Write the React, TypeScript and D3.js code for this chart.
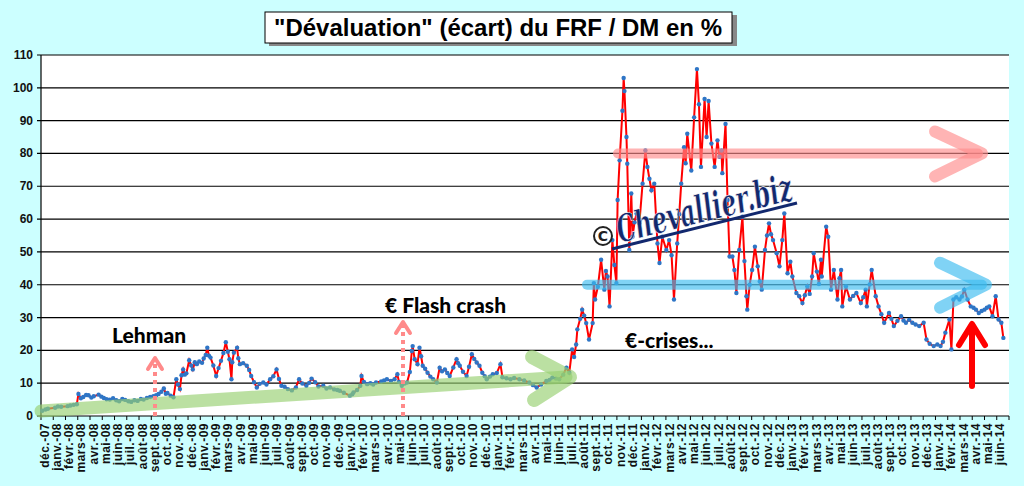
import * as d3 from "d3";

// values: [date, écart %]
const s2008: [string, number][] = [
  ["2007-12-04", 1.6], ["2007-12-12", 2.0], ["2007-12-18", 2.2], ["2008-01-05", 2.5], ["2008-01-12", 2.9],
  ["2008-01-20", 2.8], ["2008-02-05", 3.0], ["2008-02-12", 3.2], ["2008-02-20", 3.4], ["2008-02-28", 3.6],
  ["2008-03-03", 6.7], ["2008-03-09", 5.4], ["2008-03-15", 5.8], ["2008-03-22", 6.4], ["2008-03-28", 6.3],
  ["2008-04-04", 5.6], ["2008-04-10", 6.0], ["2008-04-22", 6.5], ["2008-04-29", 5.9], ["2008-05-05", 5.5],
  ["2008-05-12", 5.1], ["2008-05-20", 5.0], ["2008-05-28", 5.4], ["2008-06-05", 4.8], ["2008-06-12", 4.5],
  ["2008-06-20", 5.2], ["2008-06-27", 4.9], ["2008-07-05", 4.5], ["2008-07-12", 4.3], ["2008-07-20", 4.8],
  ["2008-07-28", 4.6], ["2008-08-05", 5.2], ["2008-08-12", 5.0], ["2008-08-20", 5.5], ["2008-08-28", 5.8],
  ["2008-09-05", 6.0], ["2008-09-12", 6.3], ["2008-09-18", 6.7], ["2008-09-25", 7.4], ["2008-10-01", 8.4],
  ["2008-10-06", 6.8], ["2008-10-10", 7.0], ["2008-10-18", 6.2], ["2008-10-25", 5.7], ["2008-11-01", 11.2],
  ["2008-11-05", 9.6], ["2008-11-10", 8.2], ["2008-11-14", 12.4], ["2008-11-18", 14.2], ["2008-11-22", 12.6],
  ["2008-11-26", 13.0], ["2008-12-03", 17.0], ["2008-12-08", 15.4], ["2008-12-12", 14.2], ["2008-12-17", 16.4],
  ["2008-12-22", 15.8], ["2008-12-28", 16.6],
];

const s2009: [string, number][] = [
  ["2009-01-04", 16.2], ["2009-01-08", 17.5], ["2009-01-13", 18.6], ["2009-01-17", 20.8], ["2009-01-21", 18.4],
  ["2009-01-25", 17.8], ["2009-02-01", 15.4], ["2009-02-08", 12.2], ["2009-02-14", 14.6], ["2009-02-20", 16.8],
  ["2009-02-26", 19.2], ["2009-03-04", 22.5], ["2009-03-09", 19.6], ["2009-03-13", 17.3], ["2009-03-18", 11.2],
  ["2009-03-20", 16.4], ["2009-03-24", 19.3], ["2009-04-01", 20.8], ["2009-04-04", 17.6], ["2009-04-08", 15.8],
  ["2009-04-16", 16.1], ["2009-04-25", 15.3], ["2009-05-01", 14.0], ["2009-05-06", 12.2], ["2009-05-13", 10.3],
  ["2009-05-20", 8.7], ["2009-05-27", 9.8], ["2009-06-05", 10.2], ["2009-06-13", 9.6], ["2009-06-22", 11.2],
  ["2009-06-30", 12.1], ["2009-07-08", 14.2], ["2009-07-14", 11.3], ["2009-07-20", 9.2], ["2009-07-28", 8.9],
  ["2009-08-05", 8.2], ["2009-08-15", 7.8], ["2009-08-25", 8.7], ["2009-09-02", 11.2], ["2009-09-10", 9.9],
  ["2009-09-20", 9.2], ["2009-09-27", 10.1], ["2009-10-03", 11.4], ["2009-10-12", 10.3], ["2009-10-20", 9.0],
  ["2009-11-01", 9.2], ["2009-11-09", 8.4], ["2009-11-18", 8.7], ["2009-11-28", 8.1], ["2009-12-06", 7.9],
  ["2009-12-12", 7.7], ["2009-12-22", 7.1],
];

const s2010: [string, number][] = [
  ["2010-01-06", 6.2], ["2010-01-12", 6.6], ["2010-01-15", 7.2], ["2010-01-24", 7.9], ["2010-02-01", 9.2],
  ["2010-02-04", 12.2], ["2010-02-10", 10.4], ["2010-02-18", 9.7], ["2010-02-26", 10.0], ["2010-03-05", 9.6],
  ["2010-03-12", 10.2], ["2010-03-25", 10.5], ["2010-04-01", 10.8], ["2010-04-08", 11.2], ["2010-04-18", 10.7],
  ["2010-04-27", 11.2], ["2010-05-04", 12.7], ["2010-05-08", 10.4], ["2010-05-15", 9.2], ["2010-05-22", 9.9],
  ["2010-05-28", 10.2], ["2010-06-04", 13.4], ["2010-06-09", 19.8], ["2010-06-11", 21.3], ["2010-06-16", 17.3],
  ["2010-06-23", 15.8], ["2010-06-28", 20.8], ["2010-07-02", 18.2], ["2010-07-06", 15.3], ["2010-07-12", 14.4],
  ["2010-07-18", 13.2], ["2010-07-25", 12.0], ["2010-08-01", 11.2], ["2010-08-10", 10.2], ["2010-08-17", 14.7],
  ["2010-08-23", 13.6], ["2010-08-30", 14.2], ["2010-09-05", 13.1], ["2010-09-11", 12.2], ["2010-09-20", 14.8],
  ["2010-09-28", 17.3], ["2010-10-02", 16.1], ["2010-10-06", 15.3], ["2010-10-14", 13.5], ["2010-10-23", 12.2],
  ["2010-10-29", 15.0], ["2010-11-05", 18.8], ["2010-11-11", 17.4], ["2010-11-17", 16.3], ["2010-11-24", 15.3],
  ["2010-12-01", 13.2], ["2010-12-07", 12.1], ["2010-12-12", 11.2], ["2010-12-20", 12.0], ["2010-12-27", 12.7],
];

const s2011: [string, number][] = [
  ["2011-01-06", 13.1], ["2011-01-15", 15.8], ["2011-01-20", 11.8], ["2011-01-30", 11.5], ["2011-02-09", 11.2],
  ["2011-02-18", 11.6], ["2011-03-03", 11.2], ["2011-03-15", 10.8], ["2011-03-28", 10.2], ["2011-04-06", 9.4],
  ["2011-04-15", 8.7], ["2011-04-26", 9.6], ["2011-05-09", 10.7], ["2011-05-17", 11.0], ["2011-05-24", 11.7],
  ["2011-06-02", 11.4], ["2011-06-10", 11.2], ["2011-06-20", 12.6], ["2011-06-28", 14.7], ["2011-07-05", 13.2],
  ["2011-07-12", 20.3], ["2011-07-17", 18.0], ["2011-07-22", 21.8], ["2011-07-25", 26.4], ["2011-08-01", 29.6],
  ["2011-08-06", 32.4], ["2011-08-11", 30.6], ["2011-08-16", 28.3], ["2011-08-23", 23.3], ["2011-09-01", 28.3],
  ["2011-09-04", 40.5], ["2011-09-07", 35.5], ["2011-09-14", 39.4], ["2011-09-22", 47.6], ["2011-09-30", 38.5],
  ["2011-10-04", 44.2], ["2011-10-08", 42.5], ["2011-10-13", 33.4], ["2011-10-20", 53.6], ["2011-10-25", 46.0],
  ["2011-10-30", 40.5], ["2011-11-02", 65.8], ["2011-11-07", 77.9], ["2011-11-14", 93.0], ["2011-11-17", 103.0],
  ["2011-11-19", 99.0], ["2011-11-24", 85.0], ["2011-11-26", 76.9], ["2011-12-01", 50.6], ["2011-12-06", 67.8],
  ["2011-12-09", 54.6], ["2011-12-14", 59.0], ["2011-12-19", 61.7], ["2011-12-26", 58.7],
];

const s2012: [string, number][] = [
  ["2012-01-03", 70.8], ["2012-01-10", 80.9], ["2012-01-15", 75.9], ["2012-01-20", 72.3], ["2012-01-25", 68.8],
  ["2012-02-01", 70.8], ["2012-02-09", 52.6], ["2012-02-14", 46.6], ["2012-02-21", 54.6], ["2012-03-02", 50.6],
  ["2012-03-09", 53.6], ["2012-03-15", 49.0], ["2012-03-21", 35.5], ["2012-03-29", 52.6], ["2012-04-03", 61.5],
  ["2012-04-08", 70.8], ["2012-04-15", 81.9], ["2012-04-19", 77.0], ["2012-04-23", 86.0], ["2012-05-03", 74.8],
  ["2012-05-10", 91.0], ["2012-05-17", 105.7], ["2012-05-22", 95.0], ["2012-05-27", 75.9], ["2012-06-05", 96.6],
  ["2012-06-10", 85.0], ["2012-06-15", 96.0], ["2012-06-22", 83.0], ["2012-06-30", 75.9], ["2012-07-07", 84.0],
  ["2012-07-12", 79.0], ["2012-07-17", 80.9], ["2012-07-19", 74.0], ["2012-07-27", 89.0], ["2012-08-01", 65.8],
  ["2012-08-06", 48.6], ["2012-08-13", 48.6], ["2012-08-18", 44.5], ["2012-08-23", 37.5], ["2012-08-30", 50.6],
  ["2012-09-07", 60.7], ["2012-09-12", 47.2], ["2012-09-17", 36.5], ["2012-09-19", 32.4], ["2012-09-25", 40.0],
  ["2012-10-01", 44.5], ["2012-10-08", 51.6], ["2012-10-15", 45.6], ["2012-10-20", 41.0], ["2012-10-25", 38.5],
  ["2012-11-02", 50.6], ["2012-11-07", 55.0], ["2012-11-12", 58.7], ["2012-11-17", 55.4], ["2012-11-22", 53.6],
  ["2012-12-01", 49.6], ["2012-12-08", 45.6], ["2012-12-15", 53.6], ["2012-12-20", 61.7], ["2012-12-28", 43.5],
];

const s2013: [string, number][] = [
  ["2013-01-04", 47.0], ["2013-01-09", 42.5], ["2013-01-19", 37.5], ["2013-01-26", 36.5], ["2013-02-03", 34.4],
  ["2013-02-09", 36.8], ["2013-02-15", 39.5], ["2013-02-21", 37.2], ["2013-02-27", 42.5], ["2013-03-03", 49.6],
  ["2013-03-11", 44.0], ["2013-03-16", 40.2], ["2013-03-21", 47.6], ["2013-03-23", 42.5], ["2013-04-03", 57.7],
  ["2013-04-08", 54.6], ["2013-04-15", 38.5], ["2013-04-22", 44.5], ["2013-05-01", 35.5], ["2013-05-06", 42.0],
  ["2013-05-10", 44.5], ["2013-05-13", 33.4], ["2013-05-22", 39.5], ["2013-06-01", 35.5], ["2013-06-09", 36.6],
  ["2013-06-17", 37.5], ["2013-06-28", 34.4], ["2013-07-04", 36.2], ["2013-07-10", 38.5], ["2013-07-13", 33.4],
  ["2013-07-20", 40.1], ["2013-07-25", 44.5], ["2013-08-04", 36.5], ["2013-08-11", 33.4], ["2013-08-18", 31.0],
  ["2013-08-25", 28.4], ["2013-09-06", 31.4], ["2013-09-12", 29.6], ["2013-09-18", 27.4], ["2013-09-27", 29.0],
  ["2013-10-06", 30.4], ["2013-10-12", 29.1], ["2013-10-18", 28.4], ["2013-10-26", 29.3], ["2013-11-03", 28.4],
  ["2013-11-11", 27.9], ["2013-11-20", 27.4], ["2013-12-01", 28.4], ["2013-12-08", 23.3], ["2013-12-16", 22.0],
  ["2013-12-26", 21.3],
];

const s2014: [string, number][] = [
  ["2014-01-04", 21.8], ["2014-01-12", 21.3], ["2014-01-18", 22.6], ["2014-01-24", 25.4], ["2014-02-03", 29.4],
  ["2014-02-08", 20.3], ["2014-02-13", 35.5], ["2014-02-20", 36.2], ["2014-02-28", 35.5], ["2014-03-06", 36.4],
  ["2014-03-12", 38.5], ["2014-03-20", 35.5], ["2014-03-28", 33.4], ["2014-04-04", 33.0], ["2014-04-10", 32.4],
  ["2014-04-17", 31.4], ["2014-04-24", 32.0], ["2014-05-01", 32.4], ["2014-05-07", 33.0], ["2014-05-13", 33.4],
  ["2014-05-21", 30.4], ["2014-05-29", 36.5], ["2014-06-05", 29.4], ["2014-06-12", 28.4], ["2014-06-17", 23.8],
];

const monthLabels = [
  "déc.-07",
  "janv.-08", "févr.-08", "mars-08", "avr.-08", "mai-08", "juin-08", "juil.-08", "août-08", "sept.-08", "oct.-08", "nov.-08", "déc.-08",
  "janv.-09", "févr.-09", "mars-09", "avr.-09", "mai-09", "juin-09", "juil.-09", "août-09", "sept.-09", "oct.-09", "nov.-09", "déc.-09",
  "janv.-10", "févr.-10", "mars-10", "avr.-10", "mai-10", "juin-10", "juil.-10", "août-10", "sept.-10", "oct.-10", "nov.-10", "déc.-10",
  "janv.-11", "févr.-11", "mars-11", "avr.-11", "mai-11", "juin-11", "juil.-11", "août-11", "sept.-11", "oct.-11", "nov.-11", "déc.-11",
  "janv.-12", "févr.-12", "mars-12", "avr.-12", "mai-12", "juin-12", "juil.-12", "août-12", "sept.-12", "oct.-12", "nov.-12", "déc.-12",
  "janv.-13", "févr.-13", "mars-13", "avr.-13", "mai-13", "juin-13", "juil.-13", "août-13", "sept.-13", "oct.-13", "nov.-13", "déc.-13",
  "janv.-14", "févr.-14", "mars-14", "avr.-14", "mai-14", "juin-14",
];

const yTicks = [0, 10, 20, 30, 40, 50, 60, 70, 80, 90, 100, 110];

const title = "\"Dévaluation\" (écart) du FRF / DM en %";

const W = 1024;
const H = 486;
const left = 41;
const right = 1009;
const top = 55;
const bottom = 416;

const parse = d3.timeParse("%Y-%m-%d");

export default function App() {
  const series = [...s2008, ...s2009, ...s2010, ...s2011, ...s2012, ...s2013, ...s2014].map(([d, v]) => ({
    date: parse(d) as Date,
    value: v,
  }));

  const xTime = d3.scaleTime()
    .domain([new Date(2007, 11, 1), new Date(2014, 6, 1)])
    .range([left, right]);
  const xBand = d3.scaleBand<string>().domain(monthLabels).range([left, right]);
  const y = d3.scaleLinear().domain([0, 110]).range([bottom, top]);

  const line = d3.line<{ date: Date; value: number }>()
    .x(d => xTime(d.date))
    .y(d => y(d.value));

  const bold = { fontFamily: "'Liberation Sans', Arial, sans-serif", fontWeight: 700 };
  const calibri = { fontFamily: "Lato, 'Open Sans', sans-serif", fontWeight: 900 };

  const flashX = 403;
  const lehmanX = 155;

  return (
    <svg width={W} height={H} style={{ position: "absolute", left: 0, top: 0 }}>
      <rect x={0} y={0} width={W} height={H} fill="#ccffff" />
      <rect x={left} y={top} width={right - left} height={bottom - top} fill="#fff" />

      {/* gridlines */}
      {yTicks.filter(t => t > 0).map(t => (
        <line key={t} x1={left - 4} x2={right} y1={y(t)} y2={y(t)} stroke="#000" strokeWidth={1.2} />
      ))}
      {yTicks.map(t => (
        <text key={"l" + t} x={left - 8} y={y(t) + 4} textAnchor="end" fontSize={12} {...bold} fill="#111">
          {t}
        </text>
      ))}

      {/* x axis */}
      <line x1={left} x2={left} y1={top} y2={bottom} stroke="#000" strokeWidth={1.2} />
      <line x1={left - 4} x2={right} y1={bottom} y2={bottom} stroke="#000" strokeWidth={1.2} />
      {monthLabels.map((m, i) => {
        const x0 = xBand(m) as number;
        const cx = x0 + xBand.bandwidth() / 2;
        return (
          <g key={m}>
            <line x1={x0} x2={x0} y1={bottom} y2={bottom + 4} stroke="#000" />
            {i === monthLabels.length - 1 && (
              <line x1={x0 + xBand.bandwidth()} x2={x0 + xBand.bandwidth()} y1={bottom} y2={bottom + 4} stroke="#000" />
            )}
            <text
              transform={`translate(${cx + 1.5},${bottom + 7}) rotate(-90)`}
              textAnchor="end"
              fontSize={12}
              letterSpacing={0.5}
              {...bold}
              fill="#111"
            >
              {m}
            </text>
          </g>
        );
      })}

      {/* series */}
      <path d={line(series) ?? ""} fill="none" stroke="#ff0000" strokeWidth={2} />
      {series.map((d, i) => (
        <circle key={i} cx={xTime(d.date)} cy={y(d.value)} r={2.2} fill="#2e75c6" />
      ))}

      {/* green trend arrow */}
      <g stroke="#96d070" strokeOpacity={0.65} fill="none" strokeLinecap="round" strokeLinejoin="round">
        <line x1={left} y1={bottom - 5} x2={566} y2={377} strokeWidth={13} />
        <polyline points="532,357 570,377 534,400" strokeWidth={14} />
      </g>

      {/* pink 80% arrow */}
      <g stroke="#ff8c8c" strokeOpacity={0.65} fill="none" strokeLinecap="round" strokeLinejoin="round">
        <line x1={618} y1={y(80)} x2={978} y2={y(80)} strokeWidth={10} />
        <polyline points={`935,${y(80) - 22} 982,${y(80)} 935,${y(80) + 23}`} strokeWidth={12} />
      </g>

      {/* blue 40% arrow */}
      <g stroke="#3cbcf0" strokeOpacity={0.65} fill="none" strokeLinecap="round" strokeLinejoin="round">
        <line x1={587} y1={y(40)} x2={982} y2={y(40)} strokeWidth={10} />
        <polyline points={`940,${y(40) - 22} 986,${y(40)} 940,${y(40) + 23}`} strokeWidth={12} />
      </g>

      {/* dotted arrows */}
      <g stroke="#ff8a8a" fill="none" strokeWidth={4}>
        <line x1={lehmanX} x2={lehmanX} y1={bottom} y2={360} strokeDasharray="4 4" />
        <polyline points={`${lehmanX - 7},369 ${lehmanX},358 ${lehmanX + 7},369`} strokeLinecap="round" strokeLinejoin="round" />
        <line x1={flashX} x2={flashX} y1={bottom} y2={325} strokeDasharray="4 4" />
        <polyline points={`${flashX - 7},333 ${flashX},322 ${flashX + 7},333`} strokeLinecap="round" strokeLinejoin="round" />
      </g>

      {/* red solid arrow */}
      <g stroke="#ff0000" fill="none" strokeWidth={6} strokeLinecap="round" strokeLinejoin="round">
        <line x1={972} x2={972} y1={386} y2={326} />
        <polyline points="959,345 972,324 985,345" />
      </g>

      {/* annotations */}
      <text x={112} y={343} fontSize={21} {...calibri} fill="#000">Lehman</text>
      <text x={385} y={313} fontSize={21} {...calibri} fill="#000">€ Flash crash</text>
      <text x={625} y={348} fontSize={21} {...calibri} fill="#000">€-crises...</text>

      {/* watermark */}
      <g fill="#12286e">
        <circle cx={603} cy={236} r={9} fill="#fff" fillOpacity={0.7} stroke="#222" strokeWidth={2} />
        <text x={603} y={241} textAnchor="middle" fontSize={14} fontFamily="'DejaVu Sans', sans-serif" fontWeight={700} fill="#222">C</text>
        <g transform="translate(620,243) rotate(-14)">
          <text
            x={0}
            y={0}
            fontSize={38}
            fontStyle="italic"
            fontWeight={700}
            fontFamily="'DejaVu Serif', serif"
            textLength={180}
            lengthAdjust="spacingAndGlyphs"
            stroke="#fff"
            strokeWidth={0.6}
          >
            Chevallier.biz
          </text>
        </g>
        <line x1={612} y1={249} x2={797} y2={203} stroke="#12286e" strokeWidth={3} />
      </g>

      {/* title */}
      <rect x={269} y={15} width={468} height={31} fill="#888" />
      <rect x={265} y={12} width={467} height={31} fill="#fff" stroke="#000" strokeWidth={1} />
      <text x={498} y={36} textAnchor="middle" fontSize={23} {...bold} fill="#000" textLength={448} lengthAdjust="spacingAndGlyphs">
        {title}
      </text>
    </svg>
  );
}
